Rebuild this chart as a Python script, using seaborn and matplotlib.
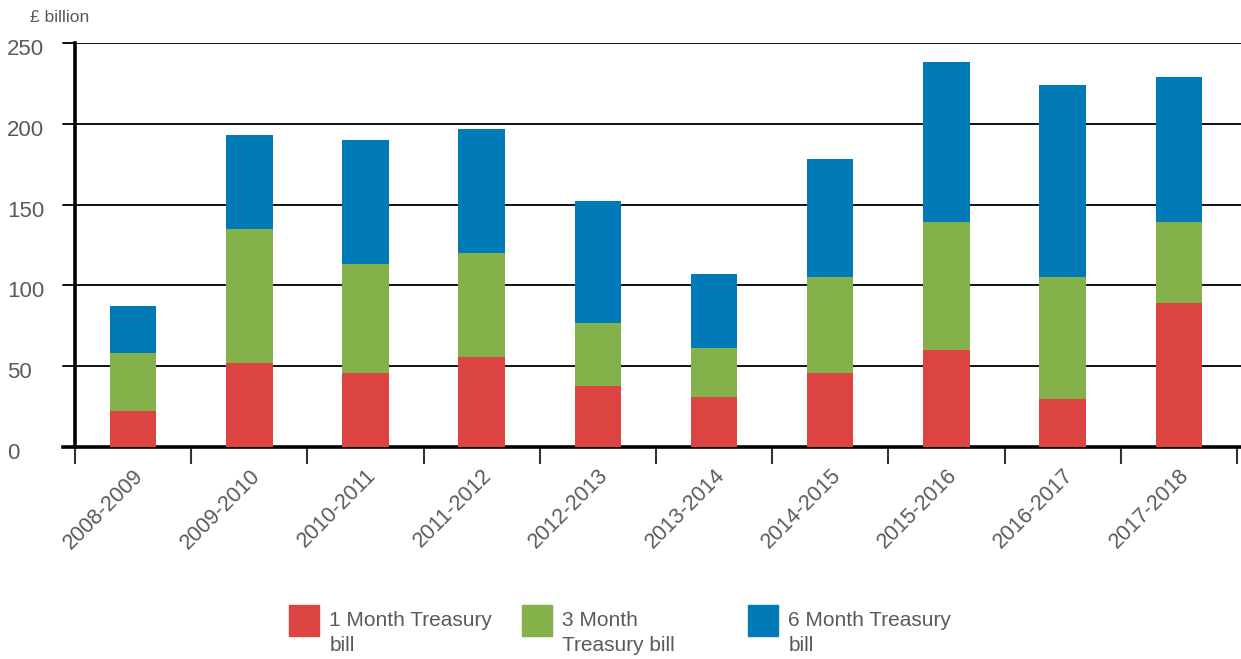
import numpy as np
import pandas as pd
import matplotlib
matplotlib.use('Agg')
import matplotlib.pyplot as plt
import matplotlib.transforms as mtransforms
from matplotlib.patches import Patch, Rectangle
from matplotlib.legend_handler import HandlerPatch
import seaborn as sns

years = ['2008-2009', '2009-2010', '2010-2011', '2011-2012', '2012-2013',
         '2013-2014', '2014-2015', '2015-2016', '2016-2017', '2017-2018']
one_month = [22, 52, 46, 56, 38, 31, 46, 60, 30, 89]
three_month = [36, 83, 67, 64, 39, 30, 59, 79, 75, 50]
six_month = [29, 58, 77, 77, 75, 46, 73, 99, 119, 90]
series_names = ['1 Month Treasury\nbill', '3 Month\nTreasury bill', '6 Month Treasury\nbill']
colors = ['#dc4441', '#84b14a', '#007bb7']

df = pd.DataFrame({'year': years, 'm1': one_month, 'm3': three_month, 'm6': six_month})
df['top1'] = df['m1']
df['top3'] = df['m1'] + df['m3']
df['top6'] = df['m1'] + df['m3'] + df['m6']

sns.set_style('white')
plt.rcParams['font.family'] = ['Liberation Sans', 'DejaVu Sans']
grey = '#5a5a5a'

fig = plt.figure(figsize=(12.41, 6.59), dpi=100)
ax = fig.add_axes([75 / 1241, 1 - 447 / 659, 1166 / 1241, 404 / 659])

# stacked bars: draw cumulative totals from top down
for col, c in zip(['top6', 'top3', 'top1'], colors[::-1]):
    sns.barplot(data=df, x='year', y=col, color=c, width=0.4, saturation=1,
                linewidth=0, edgecolor='none', ax=ax, zorder=3)

ax.set_ylim(0, 250)
ax.set_xlim(-0.5, 9.535)
ax.set_yticks(np.arange(0, 251, 50))
ax.yaxis.grid(True, color='black', linewidth=1.3, zorder=0)
ax.set_axisbelow(True)
ax.tick_params(axis='y', left=False, length=0, labelsize=16, labelcolor=grey, pad=49)
shift = mtransforms.ScaledTranslation(0, -4 / 100, fig.dpi_scale_trans)
for lab in ax.get_yticklabels():
    lab.set_horizontalalignment('left')
    lab.set_transform(lab.get_transform() + shift)

# gridline stubs outside the left spine
for v in range(0, 251, 50):
    ax.plot([-0.5 - 12 / 116.2, -0.5], [v, v], color='black', lw=1.3,
            clip_on=False, zorder=2)

ax.set_xticks(range(len(years)))
ax.set_xticklabels(years, rotation=45, ha='right', rotation_mode='anchor',
                   fontsize=15.5, color=grey)
ax.set_xticks(np.arange(-0.5, len(years), 1), minor=True)
ax.tick_params(axis='x', which='both', bottom=True)
ax.tick_params(axis='x', which='major', length=0, pad=13)
ax.tick_params(axis='x', which='minor', length=12, width=1.5, color='#333333')

for s in ['top', 'right']:
    ax.spines[s].set_visible(False)
ax.spines['left'].set_linewidth(2.6)
ax.spines['left'].set_color('black')
ax.spines['bottom'].set_linewidth(2.6)
ax.spines['bottom'].set_color('black')
ax.spines['bottom'].set_bounds(-0.5 - 12 / 116.2, 9.535)
ax.set_xlabel('')
ax.set_ylabel('')

fig.text(30 / 1241, 1 - 17 / 659, '£ billion', fontsize=12.5, color=grey,
         va='center', ha='left')


# legend square sits level with the first text line
def raised_box(legend, orig_handle, xdescent, ydescent, width, height, fontsize):
    return Rectangle((-xdescent, -ydescent + 9.4), width, height)


# legend, one entry per box
xpos = [274, 507, 733]
for x, name, c in zip(xpos, series_names, colors):
    leg = fig.legend(handles=[Patch(color=c, label=name)], loc='upper left',
                     bbox_to_anchor=(x / 1241, 1 - 596 / 659), frameon=False,
                     fontsize=15, labelcolor=grey, handlelength=1.45,
                     handleheight=1.9, handletextpad=0.5, borderpad=0.2,
                     handler_map={Patch: HandlerPatch(patch_func=raised_box)})
    for t in leg.get_texts():
        t.set_linespacing(1.45)

fig.savefig('out.png', dpi=100)
